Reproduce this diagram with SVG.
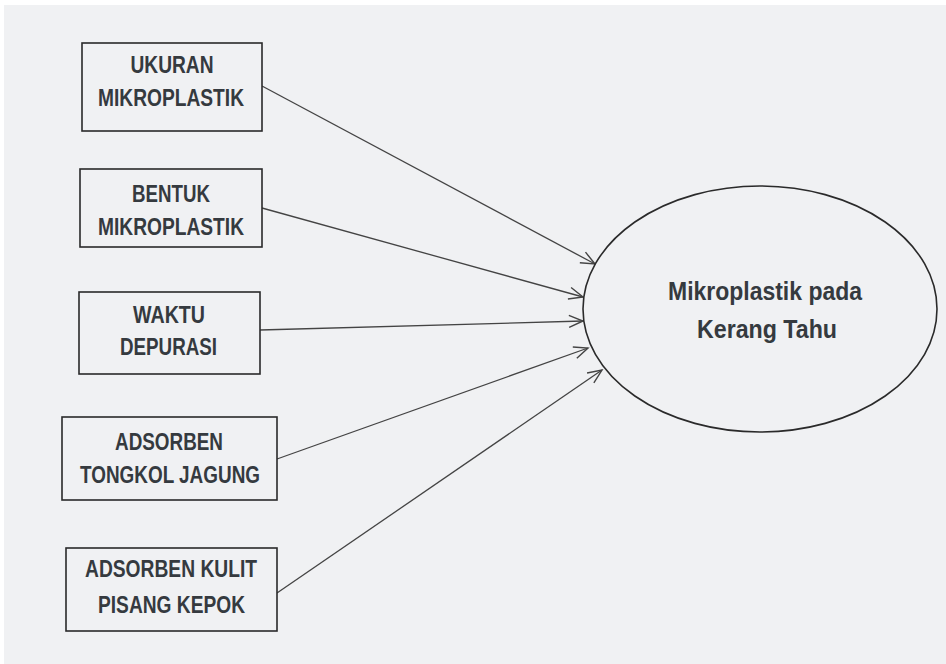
<svg xmlns="http://www.w3.org/2000/svg" width="946" height="664" viewBox="0 0 946 664">
<defs>
<style>
.box{fill:#f0f1f3;stroke:#2a2a2a;stroke-width:1.6}
.lbl{font-family:"Liberation Sans Narrow","Liberation Sans",Arial,sans-serif;font-weight:bold;font-size:23px;fill:#353a3f;text-anchor:middle}
.big{font-size:25px}
.conn{stroke:#444;stroke-width:1.3;fill:none;marker-end:url(#arr)}
</style>
<marker id="arr" markerWidth="20" markerHeight="20" refX="15" refY="7" orient="auto" markerUnits="userSpaceOnUse" viewBox="0 0 20 14">
<path d="M1,1 L15,7 L1,13" fill="none" stroke="#444" stroke-width="1.4"/>
</marker>
</defs>
<rect x="0" y="0" width="946" height="664" fill="#ffffff"/>
<rect x="4" y="5" width="942" height="659" fill="#f0f1f3"/>
<g id="connectors">
<line class="conn" x1="262" y1="86" x2="595" y2="264"/>
<line class="conn" x1="262" y1="208" x2="583" y2="297"/>
<line class="conn" x1="260" y1="330" x2="583" y2="321"/>
<line class="conn" x1="277" y1="459" x2="588" y2="348"/>
<line class="conn" x1="277" y1="593" x2="602" y2="370"/>
</g>
<g id="n1">
<rect class="box" x="82" y="43" width="180" height="88"/>
<text class="lbl" x="172" y="73" textLength="83" lengthAdjust="spacingAndGlyphs">UKURAN</text>
<text class="lbl" x="171" y="106" textLength="146" lengthAdjust="spacingAndGlyphs">MIKROPLASTIK</text>
</g>
<g id="n2">
<rect class="box" x="80" y="169" width="182" height="78"/>
<text class="lbl" x="171" y="202" textLength="78" lengthAdjust="spacingAndGlyphs">BENTUK</text>
<text class="lbl" x="171" y="235" textLength="146" lengthAdjust="spacingAndGlyphs">MIKROPLASTIK</text>
</g>
<g id="n3">
<rect class="box" x="79" y="292" width="181" height="82"/>
<text class="lbl" x="169" y="323" textLength="72" lengthAdjust="spacingAndGlyphs">WAKTU</text>
<text class="lbl" x="168.5" y="355" textLength="97" lengthAdjust="spacingAndGlyphs">DEPURASI</text>
</g>
<g id="n4">
<rect class="box" x="62" y="417" width="215" height="83"/>
<text class="lbl" x="169" y="450" textLength="108" lengthAdjust="spacingAndGlyphs">ADSORBEN</text>
<text class="lbl" x="170" y="483" textLength="180" lengthAdjust="spacingAndGlyphs">TONGKOL JAGUNG</text>
</g>
<g id="n5">
<rect class="box" x="66" y="548" width="211" height="83"/>
<text class="lbl" x="171" y="577" textLength="172" lengthAdjust="spacingAndGlyphs">ADSORBEN KULIT</text>
<text class="lbl" x="171.5" y="613" textLength="147" lengthAdjust="spacingAndGlyphs">PISANG KEPOK</text>
</g>
<g id="target">
<ellipse cx="760" cy="309" rx="177" ry="123" fill="#f0f1f3" stroke="#2a2a2a" stroke-width="1.6"/>
<text class="lbl big" x="765" y="300" textLength="194" lengthAdjust="spacingAndGlyphs">Mikroplastik pada</text>
<text class="lbl big" x="767" y="338" textLength="140" lengthAdjust="spacingAndGlyphs">Kerang Tahu</text>
</g>
</svg>
